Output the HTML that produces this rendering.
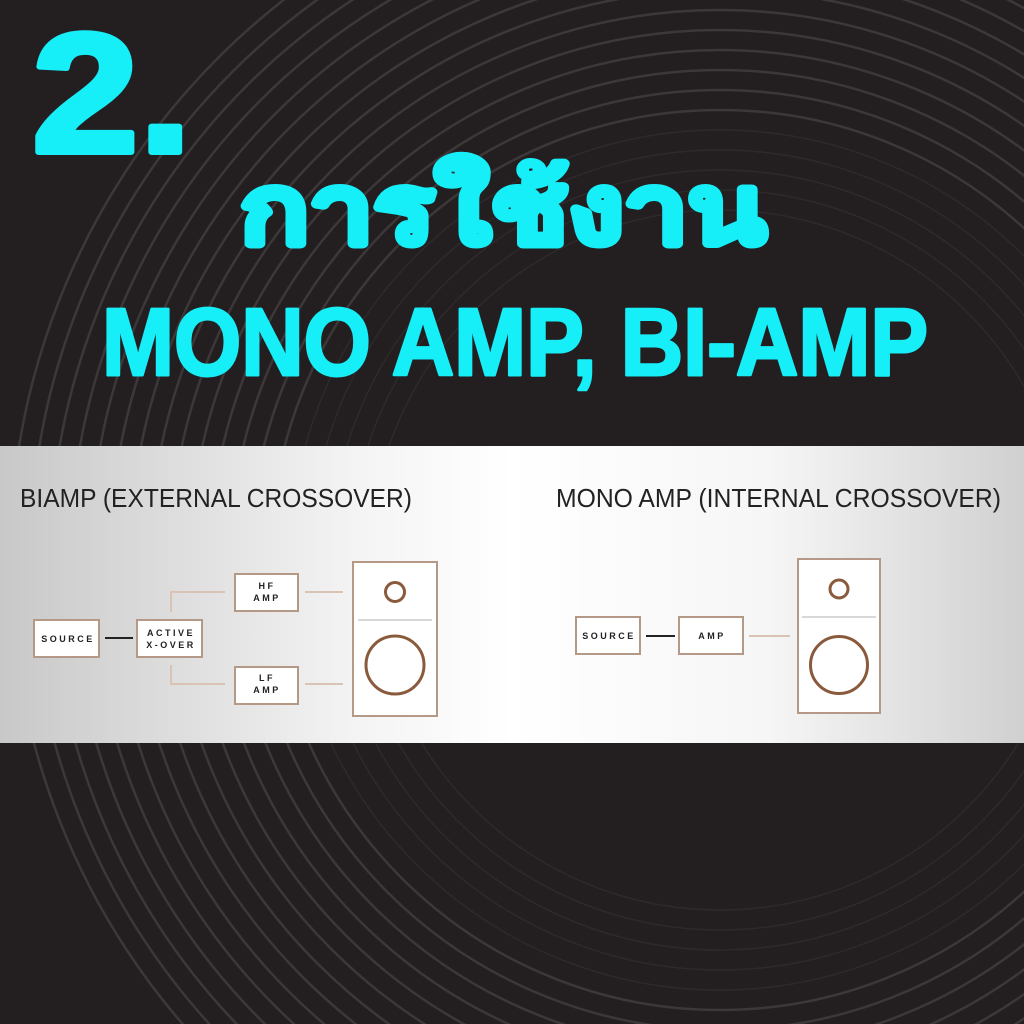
<!DOCTYPE html>
<html><head><meta charset="utf-8"><style>html,body{margin:0;padding:0;background:#231f20;width:1024px;height:1024px;overflow:hidden}svg{display:block}</style></head>
<body>
<svg width="1024" height="1024" viewBox="0 0 1024 1024" xmlns="http://www.w3.org/2000/svg">
<defs>
<linearGradient id="pg" x1="0" y1="0" x2="1" y2="0">
<stop offset="0" stop-color="#c8c8c8"/><stop offset="0.35" stop-color="#f4f4f4"/><stop offset="0.5" stop-color="#ffffff"/><stop offset="0.75" stop-color="#f6f6f6"/><stop offset="1" stop-color="#d0d0d0"/>
</linearGradient>
</defs>
<rect width="1024" height="1024" fill="#231f20"/>
<g fill="none" stroke="#3c3839" stroke-width="2.5">
<circle cx="720" cy="560" r="450"/><circle cx="720" cy="560" r="470"/><circle cx="720" cy="560" r="490"/><circle cx="720" cy="560" r="510"/><circle cx="720" cy="560" r="530"/><circle cx="720" cy="560" r="550"/><circle cx="720" cy="560" r="570"/><circle cx="720" cy="560" r="590"/><circle cx="720" cy="560" r="610"/><circle cx="720" cy="560" r="630"/><circle cx="720" cy="560" r="650"/><circle cx="720" cy="560" r="670"/><circle cx="720" cy="560" r="690"/><circle cx="720" cy="560" r="710"/>
</g>
<g fill="none" stroke="#2e2a2b" stroke-width="1.5">
<circle cx="720" cy="560" r="350"/><circle cx="720" cy="560" r="370"/><circle cx="720" cy="560" r="390"/><circle cx="720" cy="560" r="410"/><circle cx="720" cy="560" r="430"/>
</g>
<g fill="#16eef8" stroke="#16eef8" stroke-linejoin="round" font-family="'Liberation Sans','Noto Sans CJK SC',sans-serif" font-weight="bold">
<text x="32" y="152" font-size="170" stroke-width="6" textLength="160" lengthAdjust="spacingAndGlyphs">2.</text>
<text x="240" y="243" font-size="96" stroke-width="7" textLength="526" lengthAdjust="spacingAndGlyphs">การใช้งาน</text>
<text x="102" y="375" font-size="96" stroke-width="3" textLength="826" lengthAdjust="spacingAndGlyphs">MONO AMP, BI-AMP</text>
</g>
<rect x="0" y="446" width="1024" height="297" fill="url(#pg)"/>
<g font-family="'Liberation Sans',sans-serif" fill="#222">
<text x="20" y="507" font-size="26" textLength="392" lengthAdjust="spacingAndGlyphs">BIAMP (EXTERNAL CROSSOVER)</text>
<text x="556" y="507" font-size="26" textLength="445" lengthAdjust="spacingAndGlyphs">MONO AMP (INTERNAL CROSSOVER)</text>
</g>
<g fill="#fff" stroke="#b49a86" stroke-width="2">
<rect x="34" y="620" width="65" height="37"/>
<rect x="137" y="620" width="65" height="37"/>
<rect x="235" y="574" width="63" height="37"/>
<rect x="235" y="667" width="63" height="37"/>
<rect x="353" y="562" width="84" height="154"/>
<rect x="576" y="617" width="64" height="37"/>
<rect x="679" y="617" width="64" height="37"/>
<rect x="798" y="559" width="82" height="154"/>
</g>
<g fill="none" stroke="#d9c3b4" stroke-width="2">
<polyline points="171,612 171,592 225,592"/>
<polyline points="171,665 171,684 225,684"/>
<line x1="305" y1="592" x2="343" y2="592"/>
<line x1="305" y1="684" x2="343" y2="684"/>
<line x1="749" y1="636" x2="790" y2="636"/>
</g>
<g stroke="#ccc" stroke-width="1.5"><line x1="358" y1="620" x2="432" y2="620"/><line x1="802" y1="617" x2="876" y2="617"/></g>
<g stroke="#222" stroke-width="2"><line x1="105" y1="638" x2="133" y2="638"/><line x1="646" y1="636" x2="675" y2="636"/></g>
<g fill="none" stroke="#8a5a3c" stroke-width="3">
<circle cx="395" cy="592" r="9.5"/><circle cx="395" cy="665" r="29"/>
<circle cx="839" cy="589" r="9"/><circle cx="839" cy="665" r="28.5"/>
</g>
<g font-family="'Liberation Sans',sans-serif" font-size="9" font-weight="bold" fill="#222" text-anchor="middle" letter-spacing="2.5">
<text x="68" y="642">SOURCE</text>
<text x="171" y="636">ACTIVE</text><text x="171" y="648">X-OVER</text>
<text x="267" y="589">HF</text><text x="267" y="601">AMP</text>
<text x="267" y="681">LF</text><text x="267" y="693">AMP</text>
<text x="609" y="639">SOURCE</text>
<text x="712" y="639">AMP</text>
</g>
</svg>
</body></html>
